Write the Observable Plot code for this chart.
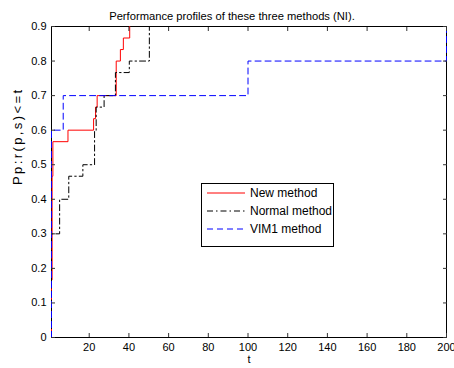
<!DOCTYPE html>
<html>
<head>
<meta charset="utf-8">
<script src="https://cdn.jsdelivr.net/npm/d3@7"></script>
<script src="https://cdn.jsdelivr.net/npm/@observablehq/plot@0.6"></script>
<style>
  html, body { margin: 0; padding: 0; background: white; }
  #wrap { position: relative; width: 454px; height: 368px; overflow: hidden; font-family: "Liberation Sans", Arial, sans-serif; }
  #legend { position: absolute; left: 201px; top: 183px; }
</style>
</head>
<body>
<div id="wrap"><div id="chart"></div><svg id="legend" width="133" height="64"></svg></div>
<script>
// ---- data ----
const titleText = "Performance profiles of these three methods (NI).";
const xLabel = "t";
const yLabel = "Pp:r(p,s)<=t";
const seriesNames = ["New method", "Normal method", "VIM1 method"];
const seriesColors = ["#ff0000", "#000000", "#0000ff"];
const seriesDash = [null, "6,3,1.5,3", "6,4"];

const newT = [1, 1, 1.3, 1.7, 9.3, 22.2, 23.2, 24, 33.6, 35.7, 37.2, 40.4];
const newP = [0, 0.1667, 0.4667, 0.5667, 0.6, 0.6333, 0.6667, 0.7, 0.8, 0.8333, 0.8667, 0.9];

const normalT = [1, 1, 5.1, 9.7, 16.8, 22.7, 23.5, 27.5, 33.2, 40.2, 50.3];
const normalP = [0, 0.3, 0.4, 0.4667, 0.5, 0.6, 0.6667, 0.7, 0.7667, 0.8, 0.9];

const vimT = [1, 1, 6.9, 100, 200, 200];
const vimP = [0, 0.6, 0.7, 0.8, 0.8, 0.9];

const xTicks = [20, 40, 60, 80, 100, 120, 140, 160, 180, 200];
const yTicks = [0, 0.1, 0.2, 0.3, 0.4, 0.5, 0.6, 0.7, 0.8, 0.9];
const yTickLabels = ["0", "0.1", "0.2", "0.3", "0.4", "0.5", "0.6", "0.7", "0.8", "0.9"];

// ---- build table ----
const series = [[newT, newP], [normalT, normalP], [vimT, vimP]];
const rows = series.map(([ts, ps], i) => ts.map((t, j) => ({t, p: ps[j], s: seriesNames[i]})));

const font = "'Liberation Sans', Arial, sans-serif";

const chart = Plot.plot({
  width: 454,
  height: 368,
  marginLeft: 51,
  marginRight: 8,
  marginTop: 26,
  marginBottom: 31,
  style: {fontFamily: font, fontSize: "11px", background: "white", color: "black", overflow: "visible"},
  x: {domain: [1, 200]},
  y: {domain: [0, 0.9]},
  marks: [
    Plot.frame({stroke: "black", strokeWidth: 1}),
    ...rows.map((data, i) => Plot.line(data, {
      x: "t", y: "p", curve: "step-after",
      stroke: seriesColors[i], strokeWidth: 1,
      strokeDasharray: seriesDash[i] || undefined
    })),
    Plot.axisX(xTicks, {anchor: "bottom", tickSize: -4, tickPadding: 10, label: null, stroke: "#333", fontSize: 11}),
    Plot.axisX(xTicks, {anchor: "top", tickSize: -4, tickFormat: () => "", label: null, stroke: "#333"}),
    Plot.axisY(yTicks, {anchor: "left", tickSize: -4, tickPadding: 9, label: null, stroke: "#333", fontSize: 11,
      tickFormat: (d) => yTickLabels[yTicks.indexOf(d)]}),
    Plot.axisY(yTicks, {anchor: "right", tickSize: -4, tickFormat: () => "", label: null, stroke: "#333"}),
    Plot.text([titleText], {frameAnchor: "top", dy: -14, dx: -17, fontSize: 11.2, fill: "black"}),
    Plot.text([xLabel], {frameAnchor: "bottom", dy: 25, fontSize: 11, fill: "black"}),
    Plot.text([yLabel], {frameAnchor: "left", dx: -34, dy: 3, rotate: -90, fontSize: 13, fill: "black"})
  ]
});
document.getElementById("chart").appendChild(chart);
// spread the rotated y label like the reference
d3.select(chart).selectAll("text").filter(function() { return this.textContent === yLabel; })
  .attr("letter-spacing", "2.4px");

// ---- legend ----
const lg = d3.select("#legend");
lg.append("rect").attr("x", 0.5).attr("y", 0.5).attr("width", 132).attr("height", 63)
  .attr("fill", "white").attr("stroke", "black").attr("stroke-width", 1);
seriesNames.forEach((name, i) => {
  const y = 10 + i * 18;
  lg.append("line").attr("x1", 6).attr("x2", 44).attr("y1", y).attr("y2", y)
    .attr("stroke", seriesColors[i]).attr("stroke-width", 1)
    .attr("stroke-dasharray", seriesDash[i]);
  lg.append("text").attr("x", 49).attr("y", y).attr("dy", "0.35em")
    .attr("font-family", font).attr("font-size", 12).attr("fill", "black").text(name);
});
</script>
</body>
</html>
